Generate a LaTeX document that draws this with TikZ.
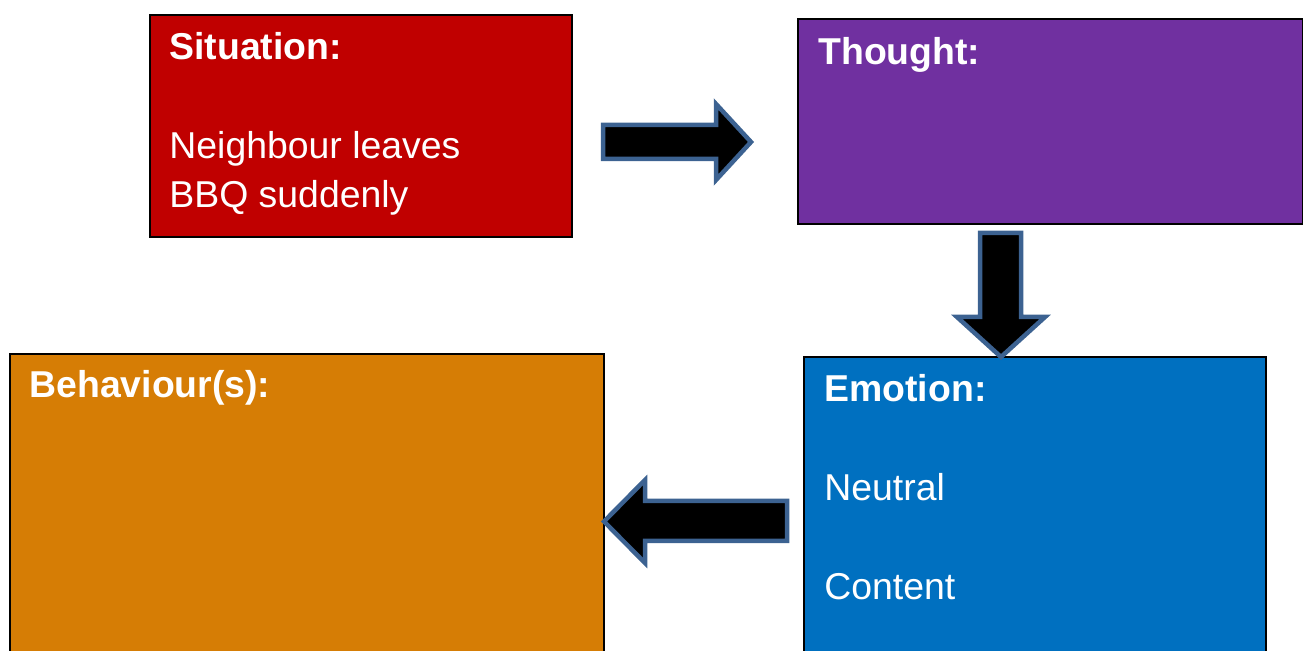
\documentclass[tikz,border=0pt]{standalone}
\usepackage{fontspec}
\setmainfont{Liberation Sans}
\definecolor{sitred}{HTML}{C00000}
\definecolor{thoughtpurple}{HTML}{7030A0}
\definecolor{emotblue}{HTML}{0070C0}
\definecolor{behavorange}{HTML}{D67D05}
\definecolor{arrowblue}{HTML}{3C6291}
\begin{document}
\begin{tikzpicture}[
    x=0.5pt, y=-0.5pt,
    box/.style={draw=black, line width=1pt, inner sep=0pt, anchor=north west},
    boxtext/.style={text=white, align=left, anchor=base west, inner sep=0pt,
                    font=\fontsize{18.7}{24.5}\selectfont},
    blockarrow/.style={draw=arrowblue, fill=black, line width=2.25pt, line join=miter}
]
    \useasboundingbox (0,0) rectangle (1303,651);
    \clip (0,0) rectangle (1303,651);

    % Boxes
    \node[box, fill=sitred, minimum width=211pt, minimum height=111pt] (sit) at (149,14) {};
    \node[box, fill=thoughtpurple, minimum width=252.5pt, minimum height=102.5pt] (thought) at (797,18) {};
    \node[box, fill=emotblue, minimum width=231pt, minimum height=160pt] (emot) at (803,356) {};
    \node[box, fill=behavorange, minimum width=297pt, minimum height=160pt] (behav) at (9,353) {};

    % Texts (base = baseline of last line)
    \node[boxtext] (sit-txt) at (169,208) {\textbf{Situation:}\\[25pt]Neighbour leaves\\BBQ suddenly};
    \node[boxtext] (thought-txt) at (818,65) {\textbf{Thought:}};
    \node[boxtext] (emot-txt) at (824,600) {\textbf{Emotion:}\\[25pt]Neutral\\[25pt]Content};
    \node[boxtext] (behav-txt) at (29,398) {\textbf{Behaviour(s):}};

    % Block arrows
    \draw[blockarrow] (603,125) -- (716,125) -- (716,104) -- (751,142)
                      -- (716,180) -- (716,159) -- (603,159) -- cycle;
    \draw[blockarrow] (980,233) -- (1021,233) -- (1021,317) -- (1045,317)
                      -- (1001,357) -- (957,317) -- (980,317) -- cycle;
    \draw[blockarrow] (787,501) -- (645,501) -- (645,480) -- (604,521.5)
                      -- (645,563) -- (645,541) -- (787,541) -- cycle;
\end{tikzpicture}
\end{document}
